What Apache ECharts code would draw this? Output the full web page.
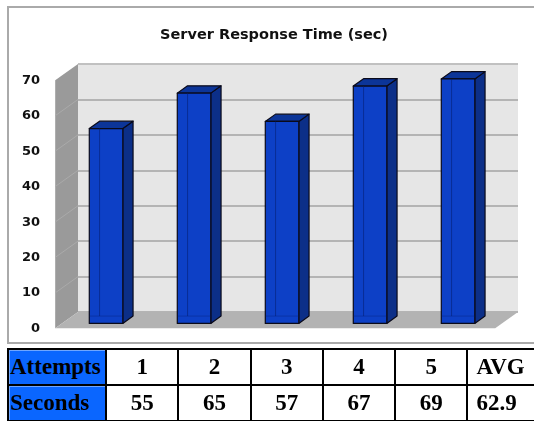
<!DOCTYPE html>
<html>
<head>
<meta charset="utf-8">
<script src="https://cdn.jsdelivr.net/npm/echarts@6/dist/echarts.min.js"></script>
<style>
  html, body { margin: 0; padding: 0; width: 534px; height: 421px; overflow: hidden; background: #fff; position: relative; }
  #frame { position: absolute; left: 7px; top: 6px; width: 545px; height: 338px; border: 2px solid #aaaaaa; box-sizing: border-box; }
  #chart { position: absolute; left: 0; top: 0; width: 534px; height: 421px; }
  #wrap { position: absolute; left: 7px; top: 348px; width: 600px; }
  #tbl { border-collapse: collapse; table-layout: fixed; width: 540px;
         font-family: "Liberation Serif", "Times New Roman", serif; font-weight: bold; font-size: 23px; color: #000; }
  #tbl td { border: 2px solid #000; height: 34px; padding: 0; text-align: center; white-space: nowrap; overflow: hidden; }
  #tbl td.head { background: #0a66ff; text-align: left; padding-left: 1px; box-shadow: inset 1px 1px 0 #6fa6ff; }
</style>
</head>
<body>
<div id="frame"></div>
<div id="chart"></div>
<div id="wrap"><table id="tbl"><colgroup></colgroup><tbody></tbody></table></div>
<script>
// ---- data ----
const title = 'Server Response Time (sec)';
const categories = ['1', '2', '3', '4', '5'];
const seconds = [55, 65, 57, 67, 69];
const yTicks = [0, 10, 20, 30, 40, 50, 60, 70];
const tableRowHeader = ['Attempts', '1', '2', '3', '4', '5', 'AVG'];
const tableRowValues = ['Seconds', '55', '65', '57', '67', '69', '62.9'];

// ---- pseudo-3D geometry (pixels) ----
const DX = -22.8, DY = 16.3;   // depth vector from back wall to front edge
const F1 = 0.70, F0 = 0.25;    // bar front / back plane as fraction of depth
const BAR_W = 33.5;

const chart = echarts.init(document.getElementById('chart'), null, { renderer: 'canvas' });

function renderWalls(params, api) {
  const cs = params.coordSys;
  const x0 = cs.x, x1 = cs.x + cs.width, yb = cs.y + cs.height;
  const yt = cs.y;
  const children = [];
  children.push({
    type: 'polygon',
    shape: { points: [[x0, yt], [x0, yb], [x0 + DX, yb + DY], [x0 + DX, yt + DY]] },
    style: { fill: '#9a9a9a', stroke: null }
  });
  children.push({
    type: 'polygon',
    shape: { points: [[x0, yb], [x1, yb], [x1 + DX, yb + DY], [x0 + DX, yb + DY]] },
    style: { fill: '#b3b3b3', stroke: null }
  });
  yTicks.forEach(function (v) {
    if (v === 0 || v === yTicks[yTicks.length - 1]) return;
    const y = api.coord([0, v])[1];
    children.push({
      type: 'line',
      shape: { x1: x0, y1: y, x2: x0 + DX, y2: y + DY },
      style: { stroke: '#aaaaaa', lineWidth: 1 }
    });
  });
  children.push({
    type: 'line',
    shape: { x1: x0, y1: yt, x2: x1, y2: yt },
    style: { stroke: '#c4c4c4', lineWidth: 1.5 }
  });
  return { type: 'group', children: children };
}

function renderBar(params, api) {
  const idx = api.value(0), val = api.value(1);
  const top = api.coord([idx, val]);
  const base = api.coord([idx, 0]);
  const cx = top[0] + DX * F1;
  const L = cx - BAR_W / 2, R = cx + BAR_W / 2;
  const fy = top[1] + DY * F1;
  const fb = base[1] + DY * F1;
  const bx = DX * (F0 - F1), by = DY * (F0 - F1);
  const edge = { stroke: '#0a0a1a', lineWidth: 1.2, lineJoin: 'round' };
  return {
    type: 'group',
    children: [
      { type: 'polygon', shape: { points: [[R, fy], [R + bx, fy + by], [R + bx, fb + by], [R, fb]] },
        style: Object.assign({ fill: '#0c2f88' }, edge) },
      { type: 'polygon', shape: { points: [[L, fy], [R, fy], [R + bx, fy + by], [L + bx, fy + by]] },
        style: Object.assign({ fill: '#0c3598' }, edge) },
      { type: 'rect', shape: { x: L, y: fy, width: BAR_W, height: fb - fy },
        style: Object.assign({ fill: '#0d40c6' }, edge) },
      { type: 'line', shape: { x1: L + bx, y1: fy, x2: L + bx, y2: fb + by },
        style: { stroke: 'rgba(5,30,110,0.55)', lineWidth: 1 } },
      { type: 'line', shape: { x1: L, y1: fb + by, x2: R, y2: fb + by },
        style: { stroke: 'rgba(5,30,110,0.35)', lineWidth: 1 } }
    ]
  };
}

chart.setOption({
  animation: false,
  backgroundColor: 'transparent',
  title: {
    text: title,
    left: 269,
    textAlign: 'center',
    top: 23,
    textStyle: { fontFamily: 'DejaVu Sans', fontWeight: 'bold', fontSize: 14.5, color: '#111' }
  },
  grid: {
    left: 78, right: 16, top: 64, bottom: 109,
    show: true, backgroundColor: '#e6e6e6', borderWidth: 0
  },
  xAxis: {
    type: 'category',
    data: categories,
    axisLine: { show: false }, axisTick: { show: false }, axisLabel: { show: false },
    splitLine: { show: false }
  },
  yAxis: {
    type: 'value',
    min: 0, max: 70, interval: 10,
    axisLine: { show: false }, axisTick: { show: false },
    splitLine: { show: true, lineStyle: { color: '#a3a3a3', width: 1.5 } },
    axisLabel: {
      margin: 38,
      verticalAlign: 'top',
      lineHeight: 33,
      fontFamily: 'DejaVu Sans', fontWeight: 'bold', fontSize: 13, color: '#111'
    }
  },
  series: [
    { type: 'custom', name: 'walls', renderItem: renderWalls, data: [[0, 0]], z: 1, silent: true },
    { type: 'custom', name: 'Seconds', renderItem: renderBar,
      data: seconds.map(function (v, i) { return [i, v]; }), z: 3 }
  ]
});

// ---- table ----
const colgroup = document.querySelector('#tbl colgroup');
tableRowHeader.forEach(function (c, j) {
  const col = document.createElement('col');
  col.style.width = (j === 0 ? 98 : (j === tableRowHeader.length - 1 ? 80 : 72.3)) + 'px';
  colgroup.appendChild(col);
});
const tbody = document.querySelector('#tbl tbody');
[tableRowHeader, tableRowValues].forEach(function (row) {
  const tr = document.createElement('tr');
  row.forEach(function (cell, j) {
    const td = document.createElement('td');
    td.textContent = cell;
    if (j === 0) td.className = 'head';
    if (j === row.length - 1) td.style.textAlign = 'left';
    if (j === row.length - 1) td.style.paddingLeft = '8px';
    tr.appendChild(td);
  });
  tbody.appendChild(tr);
});
</script>
</body>
</html>
